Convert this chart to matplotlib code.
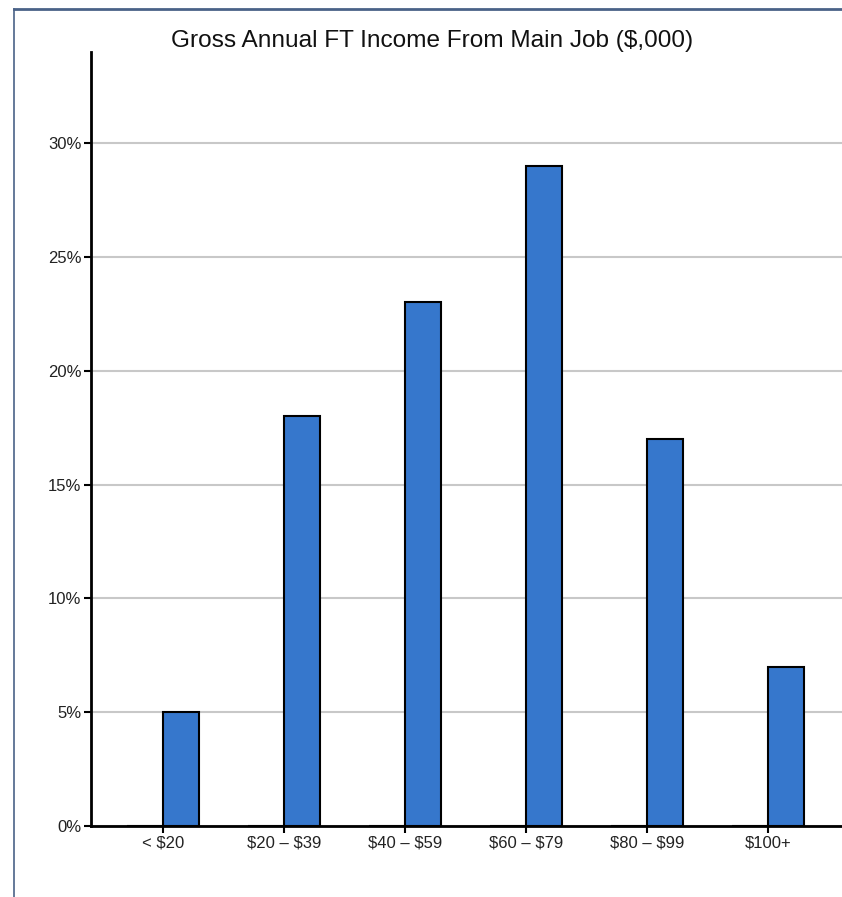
import numpy as np
import matplotlib.pyplot as plt
from matplotlib.lines import Line2D

plt.rcParams['font.family'] = ['Liberation Sans', 'DejaVu Sans']

categories = ['< \\$20', '\\$20 – \\$39', '\\$40 – \\$59', '\\$60 – \\$79', '\\$80 – \\$99', '\\$100+']
share = [5, 18, 23, 29, 17, 7]          # percent
empty = [0, 0, 0, 0, 0, 0]              # second (empty) series drawn left of the tick
yticks = [0, 5, 10, 15, 20, 25, 30]

W, H = 842, 897
fig = plt.figure(figsize=(W/100, H/100), dpi=100)
ax = fig.add_axes([91/W, 1-826/H, (842-91)/W, (826-52)/H])

x = np.arange(len(categories))
bw = 0.3
ax.bar(x - bw/2, empty, bw, color='#3677cc', edgecolor='black', linewidth=1.5, zorder=3)
ax.bar(x + bw/2, share, bw, color='#3677cc', edgecolor='black', linewidth=1.5, zorder=3)

ax.set_xlim(-0.595, 5.61)
ax.set_ylim(0, 34)
ax.set_xticks(x)
ax.set_xticklabels(categories, fontsize=12)
ax.set_yticks(yticks)
ax.set_yticklabels([f'{v}%' for v in yticks], fontsize=12)
ax.yaxis.grid(True, color='#c8c8c8', linewidth=1.5, zorder=0)
ax.set_axisbelow(True)

for s in ['top', 'right']:
    ax.spines[s].set_visible(False)
for s in ['left', 'bottom']:
    ax.spines[s].set_linewidth(2)
    ax.spines[s].set_zorder(4)
ax.tick_params(axis='both', length=5, width=1.5, color='black', labelcolor='#222222', pad=2)

fig.text(432/W, 1-41.5/H, 'Gross Annual FT Income From Main Job ($,000)',
         ha='center', va='center', fontsize=17.6, color='#111111')

# outer frame lines
fig.add_artist(Line2D([14/W, 1], [1-9/H, 1-9/H], color='#4a6288', linewidth=2))
fig.add_artist(Line2D([14/W, 14/W], [1-9/H, 0], color='#4a6288', linewidth=1.2))

fig.savefig('out.png', dpi=100)
